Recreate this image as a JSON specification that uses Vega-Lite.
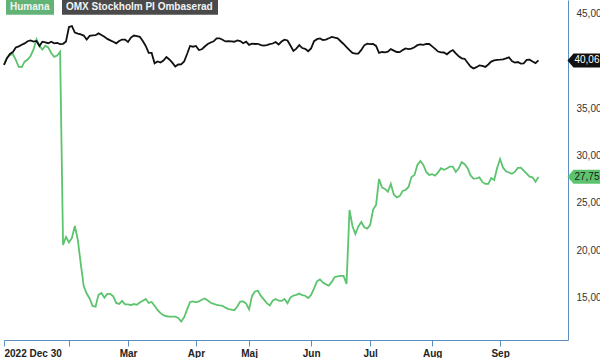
{
"$schema": "https://vega.github.io/schema/vega-lite/v6.json",
"width": 564, "height": 340, "padding": 0, "autosize": {"type": "pad"},
"background": "white",
"config": {"view": {"stroke": null}, "font": "Liberation Sans",
  "locale": {"number": {"decimal": ",", "thousands": " ", "grouping": [3], "currency": ["", " kr"]}}},
"data": {"values": [
{"d":"2022-12-30","Humana":39.6,"OMX":39.6},
{"d":"2023-01-02","Humana":40.32,"OMX":40.3},
{"d":"2023-01-03","Humana":40.63,"OMX":40.74},
{"d":"2023-01-04","Humana":40.74,"OMX":40.95},
{"d":"2023-01-05","Humana":40.11,"OMX":41.43},
{"d":"2023-01-09","Humana":39.39,"OMX":41.55},
{"d":"2023-01-10","Humana":39.37,"OMX":41.72},
{"d":"2023-01-11","Humana":39.93,"OMX":41.86},
{"d":"2023-01-12","Humana":40.16,"OMX":42.09},
{"d":"2023-01-13","Humana":40.53,"OMX":42.17},
{"d":"2023-01-16","Humana":41.22,"OMX":42.06},
{"d":"2023-01-17","Humana":42.3,"OMX":42.12},
{"d":"2023-01-18","Humana":41.62,"OMX":41.59},
{"d":"2023-01-19","Humana":41.22,"OMX":42.04},
{"d":"2023-01-20","Humana":41.62,"OMX":41.98},
{"d":"2023-01-23","Humana":41.43,"OMX":41.88},
{"d":"2023-01-24","Humana":40.85,"OMX":42.03},
{"d":"2023-01-25","Humana":40.44,"OMX":41.87},
{"d":"2023-01-26","Humana":40.58,"OMX":41.92},
{"d":"2023-01-27","Humana":40.98,"OMX":41.78},
{"d":"2023-01-30","Humana":20.55,"OMX":41.82},
{"d":"2023-01-31","Humana":21.4,"OMX":42.06},
{"d":"2023-02-01","Humana":20.81,"OMX":43.59},
{"d":"2023-02-02","Humana":21.29,"OMX":43.7},
{"d":"2023-02-03","Humana":22.56,"OMX":43.01},
{"d":"2023-02-06","Humana":21.08,"OMX":42.89},
{"d":"2023-02-07","Humana":18.54,"OMX":42.82},
{"d":"2023-02-08","Humana":16.21,"OMX":42.69},
{"d":"2023-02-09","Humana":15.41,"OMX":42.27},
{"d":"2023-02-10","Humana":14.89,"OMX":42.66},
{"d":"2023-02-13","Humana":14.1,"OMX":42.71},
{"d":"2023-02-14","Humana":14.03,"OMX":42.73},
{"d":"2023-02-15","Humana":15.27,"OMX":42.92},
{"d":"2023-02-16","Humana":15.47,"OMX":42.75},
{"d":"2023-02-17","Humana":14.98,"OMX":42.56},
{"d":"2023-02-20","Humana":15.37,"OMX":42.34},
{"d":"2023-02-21","Humana":15.37,"OMX":42.18},
{"d":"2023-02-22","Humana":15.11,"OMX":42.03},
{"d":"2023-02-23","Humana":14.42,"OMX":41.87},
{"d":"2023-02-24","Humana":14.31,"OMX":42.11},
{"d":"2023-02-27","Humana":14.63,"OMX":42.27},
{"d":"2023-02-28","Humana":14.26,"OMX":42.27},
{"d":"2023-03-01","Humana":14.26,"OMX":42.01},
{"d":"2023-03-02","Humana":14.2,"OMX":42.48},
{"d":"2023-03-03","Humana":14.3,"OMX":42.69},
{"d":"2023-03-06","Humana":14.22,"OMX":42.64},
{"d":"2023-03-07","Humana":14.47,"OMX":42.56},
{"d":"2023-03-08","Humana":14.66,"OMX":42.11},
{"d":"2023-03-09","Humana":14.84,"OMX":41.59},
{"d":"2023-03-10","Humana":14.42,"OMX":40.85},
{"d":"2023-03-13","Humana":14.52,"OMX":40.85},
{"d":"2023-03-14","Humana":14.12,"OMX":39.76},
{"d":"2023-03-15","Humana":13.68,"OMX":39.95},
{"d":"2023-03-16","Humana":13.34,"OMX":39.84},
{"d":"2023-03-17","Humana":13.12,"OMX":40.05},
{"d":"2023-03-20","Humana":13.01,"OMX":40.42},
{"d":"2023-03-21","Humana":12.97,"OMX":40.16},
{"d":"2023-03-22","Humana":12.97,"OMX":39.82},
{"d":"2023-03-23","Humana":12.97,"OMX":39.42},
{"d":"2023-03-24","Humana":12.83,"OMX":39.63},
{"d":"2023-03-27","Humana":12.46,"OMX":39.65},
{"d":"2023-03-28","Humana":12.89,"OMX":39.95},
{"d":"2023-03-29","Humana":13.71,"OMX":40.74},
{"d":"2023-03-30","Humana":14.52,"OMX":41.59},
{"d":"2023-03-31","Humana":14.58,"OMX":41.51},
{"d":"2023-04-03","Humana":14.49,"OMX":41.59},
{"d":"2023-04-04","Humana":14.58,"OMX":41.16},
{"d":"2023-04-05","Humana":14.76,"OMX":41.24},
{"d":"2023-04-06","Humana":14.89,"OMX":41.53},
{"d":"2023-04-11","Humana":14.68,"OMX":41.8},
{"d":"2023-04-12","Humana":14.44,"OMX":41.96},
{"d":"2023-04-13","Humana":14.33,"OMX":42.08},
{"d":"2023-04-14","Humana":14.21,"OMX":42.4},
{"d":"2023-04-17","Humana":14.16,"OMX":42.4},
{"d":"2023-04-18","Humana":14.12,"OMX":42.24},
{"d":"2023-04-19","Humana":13.92,"OMX":42.07},
{"d":"2023-04-20","Humana":13.77,"OMX":42.11},
{"d":"2023-04-21","Humana":13.72,"OMX":42.08},
{"d":"2023-04-24","Humana":13.64,"OMX":42.04},
{"d":"2023-04-25","Humana":14.05,"OMX":42.17},
{"d":"2023-04-26","Humana":14.56,"OMX":42.11},
{"d":"2023-04-27","Humana":14.57,"OMX":41.88},
{"d":"2023-04-28","Humana":14.35,"OMX":42.04},
{"d":"2023-05-02","Humana":13.73,"OMX":41.71},
{"d":"2023-05-03","Humana":15.16,"OMX":41.83},
{"d":"2023-05-04","Humana":15.63,"OMX":41.8},
{"d":"2023-05-05","Humana":15.71,"OMX":41.82},
{"d":"2023-05-08","Humana":15.16,"OMX":41.69},
{"d":"2023-05-09","Humana":14.8,"OMX":41.62},
{"d":"2023-05-10","Humana":14.4,"OMX":41.69},
{"d":"2023-05-11","Humana":14.16,"OMX":41.78},
{"d":"2023-05-12","Humana":14.66,"OMX":41.85},
{"d":"2023-05-15","Humana":14.84,"OMX":42.01},
{"d":"2023-05-16","Humana":14.66,"OMX":41.74},
{"d":"2023-05-17","Humana":14.63,"OMX":42.06},
{"d":"2023-05-19","Humana":14.84,"OMX":42.26},
{"d":"2023-05-22","Humana":14.39,"OMX":42.17},
{"d":"2023-05-23","Humana":14.99,"OMX":41.64},
{"d":"2023-05-24","Humana":15.2,"OMX":41.06},
{"d":"2023-05-25","Humana":15.27,"OMX":41.31},
{"d":"2023-05-26","Humana":15.41,"OMX":41.68},
{"d":"2023-05-29","Humana":15.24,"OMX":41.37},
{"d":"2023-05-30","Humana":15.18,"OMX":41.29},
{"d":"2023-05-31","Humana":14.94,"OMX":41.03},
{"d":"2023-06-01","Humana":15.27,"OMX":41.33},
{"d":"2023-06-02","Humana":15.95,"OMX":42.1},
{"d":"2023-06-05","Humana":16.7,"OMX":42.31},
{"d":"2023-06-07","Humana":16.9,"OMX":42.38},
{"d":"2023-06-08","Humana":16.57,"OMX":42.22},
{"d":"2023-06-09","Humana":16.38,"OMX":42.26},
{"d":"2023-06-12","Humana":16.25,"OMX":42.4},
{"d":"2023-06-13","Humana":16.64,"OMX":42.55},
{"d":"2023-06-14","Humana":17.15,"OMX":42.46},
{"d":"2023-06-15","Humana":17.22,"OMX":42.4},
{"d":"2023-06-16","Humana":17.27,"OMX":42.09},
{"d":"2023-06-19","Humana":17.27,"OMX":41.8},
{"d":"2023-06-20","Humana":16.43,"OMX":41.48},
{"d":"2023-06-21","Humana":24.25,"OMX":41.16},
{"d":"2023-06-22","Humana":22.56,"OMX":40.85},
{"d":"2023-06-26","Humana":21.71,"OMX":40.78},
{"d":"2023-06-27","Humana":22.51,"OMX":40.78},
{"d":"2023-06-28","Humana":22.98,"OMX":41.17},
{"d":"2023-06-29","Humana":22.42,"OMX":41.66},
{"d":"2023-06-30","Humana":22.27,"OMX":41.84},
{"d":"2023-07-03","Humana":22.66,"OMX":41.78},
{"d":"2023-07-04","Humana":24.3,"OMX":41.8},
{"d":"2023-07-05","Humana":24.78,"OMX":41.59},
{"d":"2023-07-06","Humana":27.53,"OMX":40.85},
{"d":"2023-07-07","Humana":26.63,"OMX":40.95},
{"d":"2023-07-10","Humana":26.47,"OMX":40.92},
{"d":"2023-07-11","Humana":26.18,"OMX":40.99},
{"d":"2023-07-12","Humana":27.0,"OMX":41.25},
{"d":"2023-07-13","Humana":25.89,"OMX":41.1},
{"d":"2023-07-14","Humana":25.57,"OMX":40.95},
{"d":"2023-07-17","Humana":25.71,"OMX":40.93},
{"d":"2023-07-18","Humana":26.26,"OMX":41.15},
{"d":"2023-07-19","Humana":26.36,"OMX":41.33},
{"d":"2023-07-20","Humana":26.68,"OMX":41.26},
{"d":"2023-07-21","Humana":27.74,"OMX":41.31},
{"d":"2023-07-24","Humana":27.95,"OMX":41.46},
{"d":"2023-07-25","Humana":29.01,"OMX":41.67},
{"d":"2023-07-26","Humana":29.43,"OMX":41.75},
{"d":"2023-07-27","Humana":29.01,"OMX":41.71},
{"d":"2023-07-28","Humana":28.27,"OMX":41.8},
{"d":"2023-07-31","Humana":27.95,"OMX":41.8},
{"d":"2023-08-01","Humana":28.04,"OMX":41.55},
{"d":"2023-08-02","Humana":27.89,"OMX":41.29},
{"d":"2023-08-03","Humana":28.23,"OMX":41.0},
{"d":"2023-08-04","Humana":28.66,"OMX":40.92},
{"d":"2023-08-07","Humana":28.49,"OMX":40.9},
{"d":"2023-08-08","Humana":28.63,"OMX":40.71},
{"d":"2023-08-09","Humana":28.84,"OMX":40.98},
{"d":"2023-08-10","Humana":28.84,"OMX":41.16},
{"d":"2023-08-11","Humana":28.27,"OMX":40.81},
{"d":"2023-08-14","Humana":28.66,"OMX":40.5},
{"d":"2023-08-15","Humana":29.3,"OMX":40.28},
{"d":"2023-08-16","Humana":29.08,"OMX":40.23},
{"d":"2023-08-17","Humana":28.67,"OMX":39.82},
{"d":"2023-08-18","Humana":27.9,"OMX":39.42},
{"d":"2023-08-21","Humana":27.57,"OMX":39.2},
{"d":"2023-08-22","Humana":27.58,"OMX":39.35},
{"d":"2023-08-23","Humana":27.69,"OMX":39.54},
{"d":"2023-08-24","Humana":27.21,"OMX":39.49},
{"d":"2023-08-25","Humana":27.0,"OMX":39.37},
{"d":"2023-08-28","Humana":27.0,"OMX":39.63},
{"d":"2023-08-29","Humana":27.63,"OMX":39.94},
{"d":"2023-08-30","Humana":27.42,"OMX":40.07},
{"d":"2023-08-31","Humana":28.69,"OMX":40.12},
{"d":"2023-09-01","Humana":29.64,"OMX":40.14},
{"d":"2023-09-04","Humana":28.72,"OMX":40.18},
{"d":"2023-09-05","Humana":28.34,"OMX":40.28},
{"d":"2023-09-06","Humana":28.21,"OMX":40.39},
{"d":"2023-09-07","Humana":28.08,"OMX":39.99},
{"d":"2023-09-08","Humana":28.27,"OMX":39.84},
{"d":"2023-09-11","Humana":28.69,"OMX":39.89},
{"d":"2023-09-12","Humana":28.73,"OMX":39.73},
{"d":"2023-09-13","Humana":28.41,"OMX":39.76},
{"d":"2023-09-14","Humana":28.09,"OMX":40.11},
{"d":"2023-09-15","Humana":27.77,"OMX":40.13},
{"d":"2023-09-18","Humana":27.7,"OMX":39.94},
{"d":"2023-09-19","Humana":27.23,"OMX":39.78},
{"d":"2023-09-20","Humana":27.75,"OMX":40.06}
]},
"transform": [{"fold": ["Humana", "OMX"], "as": ["series", "v"]}],
"encoding": {
  "x": {"field": "d", "type": "ordinal",
    "scale": {"type": "point", "padding": 0, "domain": [
"2022-12-30","2023-01-02","2023-01-03","2023-01-04","2023-01-05","2023-01-09","2023-01-10","2023-01-11","2023-01-12","2023-01-13","2023-01-16","2023-01-17","2023-01-18","2023-01-19","2023-01-20","2023-01-23","2023-01-24","2023-01-25","2023-01-26","2023-01-27","2023-01-30","2023-01-31",
"2023-02-01","2023-02-02","2023-02-03","2023-02-06","2023-02-07","2023-02-08","2023-02-09","2023-02-10","2023-02-13","2023-02-14","2023-02-15","2023-02-16","2023-02-17","2023-02-20","2023-02-21","2023-02-22","2023-02-23","2023-02-24","2023-02-27","2023-02-28",
"2023-03-01","2023-03-02","2023-03-03","2023-03-06","2023-03-07","2023-03-08","2023-03-09","2023-03-10","2023-03-13","2023-03-14","2023-03-15","2023-03-16","2023-03-17","2023-03-20","2023-03-21","2023-03-22","2023-03-23","2023-03-24","2023-03-27","2023-03-28","2023-03-29","2023-03-30","2023-03-31",
"2023-04-03","2023-04-04","2023-04-05","2023-04-06","2023-04-11","2023-04-12","2023-04-13","2023-04-14","2023-04-17","2023-04-18","2023-04-19","2023-04-20","2023-04-21","2023-04-24","2023-04-25","2023-04-26","2023-04-27","2023-04-28",
"2023-05-02","2023-05-03","2023-05-04","2023-05-05","2023-05-08","2023-05-09","2023-05-10","2023-05-11","2023-05-12","2023-05-15","2023-05-16","2023-05-17","2023-05-19","2023-05-22","2023-05-23","2023-05-24","2023-05-25","2023-05-26","2023-05-29","2023-05-30","2023-05-31",
"2023-06-01","2023-06-02","2023-06-05","2023-06-07","2023-06-08","2023-06-09","2023-06-12","2023-06-13","2023-06-14","2023-06-15","2023-06-16","2023-06-19","2023-06-20","2023-06-21","2023-06-22","2023-06-26","2023-06-27","2023-06-28","2023-06-29","2023-06-30",
"2023-07-03","2023-07-04","2023-07-05","2023-07-06","2023-07-07","2023-07-10","2023-07-11","2023-07-12","2023-07-13","2023-07-14","2023-07-17","2023-07-18","2023-07-19","2023-07-20","2023-07-21","2023-07-24","2023-07-25","2023-07-26","2023-07-27","2023-07-28","2023-07-31",
"2023-08-01","2023-08-02","2023-08-03","2023-08-04","2023-08-07","2023-08-08","2023-08-09","2023-08-10","2023-08-11","2023-08-14","2023-08-15","2023-08-16","2023-08-17","2023-08-18","2023-08-21","2023-08-22","2023-08-23","2023-08-24","2023-08-25","2023-08-28","2023-08-29","2023-08-30","2023-08-31",
"2023-09-01","2023-09-04","2023-09-05","2023-09-06","2023-09-07","2023-09-08","2023-09-11","2023-09-12","2023-09-13","2023-09-14","2023-09-15","2023-09-18","2023-09-19","2023-09-20",
"2023-09-21","2023-09-22","2023-09-25","2023-09-26","2023-09-27","2023-09-28","2023-09-29","2023-10-02","2023-10-03","2023-10-04"]},
    "axis": {"title": null, "grid": false, "labelAngle": 0,
      "values": ["2022-12-30","2023-02-01","2023-03-01","2023-04-03","2023-05-02","2023-06-01","2023-07-03","2023-08-01","2023-09-01"],
      "labelExpr": "datum.value == '2022-12-30' ? '2022 Dec 30' : datum.value == '2023-02-01' ? '' : datum.value == '2023-03-01' ? 'Mar' : datum.value == '2023-04-03' ? 'Apr' : datum.value == '2023-05-02' ? 'Maj' : datum.value == '2023-06-01' ? 'Jun' : datum.value == '2023-07-03' ? 'Jul' : datum.value == '2023-08-01' ? 'Aug' : 'Sep'",
      "labelAlign": {"condition": {"test": "datum.value == '2022-12-30'", "value": "left"}, "value": "center"},
      "domainColor": "#5b8fbf", "domainWidth": 1, "tickColor": "#5b8fbf", "tickSize": 6, "tickWidth": 1,
      "labelPadding": 2, "labelFontSize": 10, "labelFontWeight": "bold", "labelColor": "#222222"}},
  "y": {"field": "v", "type": "quantitative",
    "scale": {"domain": [10.5, 46.45], "nice": false, "zero": false},
    "axis": {"orient": "right", "title": null, "grid": false, "ticks": false,
      "values": [15, 20, 25, 30, 35, 45], "format": ".2f",
      "domainColor": "#5b8fbf", "domainWidth": 1, "labelPadding": 8,
      "labelFontSize": 10, "labelColor": "#333333"}}
},
"layer": [
  {"mark": {"type": "line", "strokeWidth": 1.8},
   "encoding": {"color": {"field": "series", "type": "nominal",
     "scale": {"domain": ["Humana", "OMX"], "range": ["#5cc46e", "#111111"]},
     "legend": {"title": null, "orient": "top-left", "direction": "horizontal", "offset": 2, "padding": 0,
       "symbolSize": 4, "symbolStrokeWidth": 0, "labelFontSize": 10, "labelFontWeight": "bold",
       "labelColor": "#f4f4f4", "labelOffset": -6, "columnPadding": 8, "labelLimit": 300,
       "labelExpr": "datum.value == 'OMX' ? 'OMX Stockholm PI Ombaserad' : datum.label",
       "encode": {"symbols": {"update": {
         "shape": {"signal": "datum.value == 'Humana' ? 'M-5,-7.5H43V7.5H-5Z' : 'M-5,-7.5H151V7.5H-5Z'"},
         "fill": {"signal": "datum.value == 'Humana' ? '#62b375' : '#4a4a4a'"},
         "stroke": {"value": "transparent"}, "opacity": {"value": 1}, "fillOpacity": {"value": 1}}}}}}}},
  {"transform": [{"filter": "datum.d == '2023-09-20' && datum.series == 'OMX'"}],
   "mark": {"type": "point", "shape": "M29,0L35,-7H64V7H35Z", "size": 4, "filled": true, "color": "#111111", "opacity": 1, "strokeWidth": 0}},
  {"transform": [{"filter": "datum.d == '2023-09-20' && datum.series == 'Humana'"}],
   "mark": {"type": "point", "shape": "M29,0L35,-7H64V7H35Z", "size": 4, "filled": true, "color": "#5cc46e", "opacity": 1, "strokeWidth": 0}},
  {"transform": [{"filter": "datum.d == '2023-09-20' && datum.series == 'OMX'"}],
   "mark": {"type": "text", "align": "left", "baseline": "middle", "dx": 36, "fontSize": 10, "color": "#ffffff"},
   "encoding": {"text": {"field": "v", "type": "quantitative", "format": ".2f"}}},
  {"transform": [{"filter": "datum.d == '2023-09-20' && datum.series == 'Humana'"}],
   "mark": {"type": "text", "align": "left", "baseline": "middle", "dx": 36, "fontSize": 10, "color": "#1a1a1a"},
   "encoding": {"text": {"field": "v", "type": "quantitative", "format": ".2f"}}}
]
}
